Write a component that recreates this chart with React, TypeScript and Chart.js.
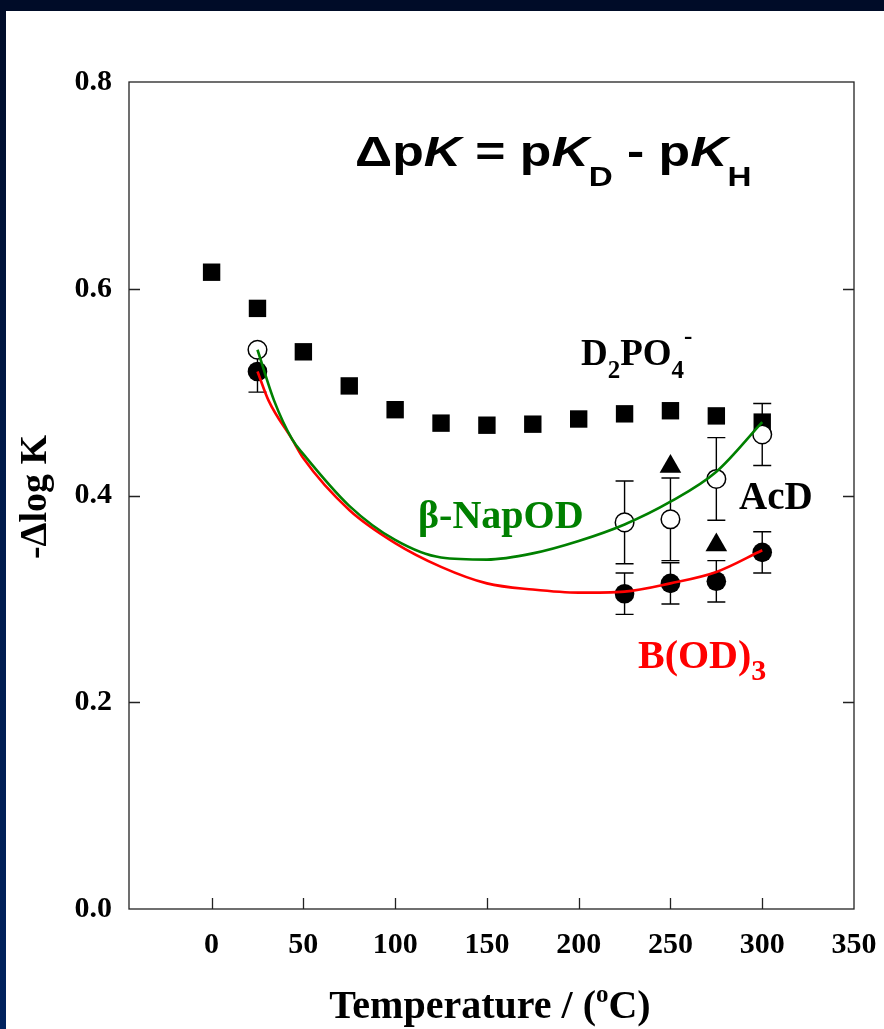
import React, { useEffect, useRef } from 'react';
import { Chart, registerables } from 'chart.js';
Chart.register(...registerables);

// ---- data ----
const phosTemps = [0, 25, 50, 75, 100, 125, 150, 175, 200, 225, 250, 275, 300];
const phosValues = [0.616, 0.581, 0.539, 0.506, 0.483, 0.47, 0.468, 0.469, 0.474, 0.479, 0.482, 0.477, 0.471];

const napTemps = [25, 225, 250, 275, 300];
const napValues = [0.541, 0.374, 0.377, 0.416, 0.459];
const napErrors = [0, 0.04, 0.04, 0.04, 0.03];

const borTemps = [25, 225, 250, 275, 300];
const borValues = [0.52, 0.305, 0.315, 0.317, 0.345];
const borErrors = [0.02, 0.02, 0.02, 0.02, 0.02];

const acdTemps = [250, 275];
const acdValues = [0.428, 0.352];

const napFitTemps = [25, 34, 44, 50, 75, 100, 125, 150, 175, 200, 225, 250, 275, 300];
const napFitValues = [0.541, 0.492, 0.454, 0.44, 0.39, 0.357, 0.34, 0.338, 0.344, 0.356, 0.372, 0.394, 0.423, 0.471];

const borFitTemps = [25, 31, 44, 50, 75, 100, 125, 150, 175, 200, 225, 250, 275, 300];
const borFitValues = [0.52, 0.492, 0.454, 0.436, 0.386, 0.354, 0.331, 0.315, 0.309, 0.306, 0.307, 0.315, 0.326, 0.347];

const xTickValues = [0, 50, 100, 150, 200, 250, 300, 350];
const xTickLabels = ['0', '50', '100', '150', '200', '250', '300', '350'];
const yTickValues = [0, 0.2, 0.4, 0.6, 0.8];
const yTickLabels = ['0.0', '0.2', '0.4', '0.6', '0.8'];

const SERIF = '"Liberation Serif", "Times New Roman", serif';
const SANS = '"Liberation Sans", Arial, sans-serif';

type Run = { text: string; font: string; dy?: number };

function drawRuns(
  ctx: CanvasRenderingContext2D,
  x: number,
  y: number,
  runs: Run[],
  color: string,
  align: 'left' | 'center' = 'left',
  scaleX = 1
) {
  ctx.save();
  ctx.fillStyle = color;
  ctx.textBaseline = 'alphabetic';
  ctx.textAlign = 'left';
  let total = 0;
  for (const r of runs) {
    ctx.font = r.font;
    total += ctx.measureText(r.text).width;
  }
  ctx.translate(x, y);
  ctx.scale(scaleX, 1);
  let cx = align === 'center' ? -total / 2 : 0;
  for (const r of runs) {
    ctx.font = r.font;
    ctx.fillText(r.text, cx, r.dy || 0);
    cx += ctx.measureText(r.text).width;
  }
  ctx.restore();
}

const toXY = (xs: number[], ys: number[]) => xs.map((x, i) => ({ x, y: ys[i] }));

const errorBarPlugin = {
  id: 'errorBars',
  beforeDatasetsDraw(chart: any) {
    const ctx = chart.ctx as CanvasRenderingContext2D;
    const xs = chart.scales.x;
    const ys = chart.scales.y;
    const sets = [
      { t: napTemps, v: napValues, e: napErrors },
      { t: borTemps, v: borValues, e: borErrors },
    ];
    ctx.save();
    ctx.strokeStyle = '#000';
    ctx.lineWidth = 1.4;
    for (const s of sets) {
      s.t.forEach((t, i) => {
        const err = s.e[i];
        if (!err) return;
        const px = xs.getPixelForValue(t);
        const top = ys.getPixelForValue(s.v[i] + err);
        const bot = ys.getPixelForValue(s.v[i] - err);
        ctx.beginPath();
        ctx.moveTo(px, top);
        ctx.lineTo(px, bot);
        ctx.moveTo(px - 9, top);
        ctx.lineTo(px + 9, top);
        ctx.moveTo(px - 9, bot);
        ctx.lineTo(px + 9, bot);
        ctx.stroke();
      });
    }
    ctx.restore();
  },
};

const framePlugin = {
  id: 'frameAxes',
  afterDraw(chart: any) {
    const ctx = chart.ctx as CanvasRenderingContext2D;
    const { left, right, top, bottom } = chart.chartArea;
    const xs = chart.scales.x;
    const ys = chart.scales.y;
    ctx.save();
    ctx.strokeStyle = '#222';
    ctx.lineWidth = 1.3;
    ctx.strokeRect(left, top, right - left, bottom - top);
    ctx.beginPath();
    xTickValues.forEach((v) => {
      const px = Math.round(xs.getPixelForValue(v)) + 0.5;
      if (px < right - 2) {
        ctx.moveTo(px, bottom);
        ctx.lineTo(px, bottom - 11);
      }
    });
    yTickValues.forEach((v) => {
      const py = Math.round(ys.getPixelForValue(v)) + 0.5;
      if (py > top + 2 && py < bottom - 2) {
        ctx.moveTo(left, py);
        ctx.lineTo(left + 11, py);
        ctx.moveTo(right, py);
        ctx.lineTo(right - 11, py);
      }
    });
    ctx.stroke();

    // tick labels
    ctx.fillStyle = '#000';
    ctx.font = `bold 30px ${SERIF}`;
    ctx.textAlign = 'center';
    ctx.textBaseline = 'middle';
    xTickValues.forEach((v, i) => {
      ctx.fillText(xTickLabels[i], xs.getPixelForValue(v), 934);
    });
    ctx.textAlign = 'right';
    yTickValues.forEach((v, i) => {
      ctx.fillText(yTickLabels[i], 106, ys.getPixelForValue(v));
    });

    // axis titles
    drawRuns(ctx, 484, 1007, [
      { text: 'Temperature / (', font: `bold 40px ${SERIF}` },
      { text: 'o', font: `bold 25px ${SERIF}`, dy: -16 },
      { text: 'C)', font: `bold 40px ${SERIF}` },
    ], '#000', 'center');

    ctx.save();
    ctx.translate(40, 486);
    ctx.rotate(-Math.PI / 2);
    drawRuns(ctx, 0, 0, [{ text: '-\u0394log K', font: `bold 38px ${SERIF}` }], '#000', 'center');
    ctx.restore();

    // annotations
    const tb = `bold 42px ${SANS}`;
    const ti = `italic bold 42px ${SANS}`;
    const ts = `bold 27px ${SANS}`;
    drawRuns(ctx, 349, 155, [
      { text: '\u0394p', font: tb },
      { text: 'K', font: ti },
      { text: ' = p', font: tb },
      { text: 'K', font: ti },
      { text: 'D', font: ts, dy: 20 },
      { text: ' - p', font: tb },
      { text: 'K', font: ti },
      { text: 'H', font: ts, dy: 20 },
    ], '#000', 'left', 1.23);

    const sb = `bold 37px ${SERIF}`;
    const ss = `bold 25px ${SERIF}`;
    drawRuns(ctx, 575, 354, [
      { text: 'D', font: sb },
      { text: '2', font: ss, dy: 13 },
      { text: 'PO', font: sb },
      { text: '4', font: ss, dy: 13 },
      { text: '-', font: ss, dy: -21 },
    ], '#000');

    drawRuns(ctx, 733, 498, [{ text: 'AcD', font: `bold 39px ${SERIF}` }], '#000');
    drawRuns(ctx, 412, 517, [{ text: '\u03b2-NapOD', font: `bold 40px ${SERIF}` }], '#008000');
    drawRuns(ctx, 632, 657, [
      { text: 'B(OD)', font: `bold 40px ${SERIF}` },
      { text: '3', font: `bold 30px ${SERIF}`, dy: 12 },
    ], '#ff0000');
    ctx.restore();
  },
};

export default function App() {
  const canvasRef = useRef<HTMLCanvasElement | null>(null);

  useEffect(() => {
    const canvas = canvasRef.current;
    if (!canvas) return;
    const chart = new Chart(canvas, {
      type: 'scatter',
      data: {
        datasets: [
          {
            label: 'NapOD fit',
            data: toXY(napFitTemps, napFitValues),
            showLine: true,
            borderColor: '#008000',
            borderWidth: 2.6,
            pointRadius: 0,
            cubicInterpolationMode: 'monotone',
            fill: false,
          },
          {
            label: 'B(OD)3 fit',
            data: toXY(borFitTemps, borFitValues),
            showLine: true,
            borderColor: '#ff0000',
            borderWidth: 2.6,
            pointRadius: 0,
            cubicInterpolationMode: 'monotone',
            fill: false,
          },
          {
            label: 'AcD',
            data: toXY(acdTemps, acdValues),
            pointStyle: 'triangle',
            pointRadius: 12.5,
            backgroundColor: '#000',
            borderWidth: 0,
          },
          {
            label: 'B(OD)3',
            data: toXY(borTemps, borValues),
            pointStyle: 'circle',
            pointRadius: 9.8,
            backgroundColor: '#000',
            borderWidth: 0,
          },
          {
            label: 'beta-NapOD',
            data: toXY(napTemps, napValues),
            pointStyle: 'circle',
            pointRadius: 9.3,
            backgroundColor: '#fff',
            borderColor: '#000',
            borderWidth: 1.5,
          },
          {
            label: 'D2PO4-',
            data: toXY(phosTemps, phosValues),
            pointStyle: 'rect',
            pointRadius: 12.3,
            backgroundColor: '#000',
            borderWidth: 0,
          },
        ],
      },
      options: {
        responsive: false,
        animation: false,
        events: [],
        devicePixelRatio: 1,
        layout: { padding: { left: 123, right: 30, top: 71, bottom: 120 } },
        plugins: { legend: { display: false }, tooltip: { enabled: false } },
        scales: {
          x: { type: 'linear', min: -45, max: 350, display: false },
          y: { type: 'linear', min: 0, max: 0.8, display: false },
        },
      },
      plugins: [errorBarPlugin, framePlugin],
    } as any);
    return () => chart.destroy();
  }, []);

  return (
    <div
      style={{
        position: 'fixed',
        left: 0,
        top: 0,
        width: 884,
        height: 1029,
        background: 'linear-gradient(to bottom, #000c28 0%, #001a4a 45%, #00225e 100%)',
        overflow: 'hidden',
      }}
    >
      <div style={{ position: 'absolute', left: 0, top: 0, width: 884, height: 11, background: '#000c28' }} />
      <canvas
        ref={canvasRef}
        width={878}
        height={1018}
        style={{ position: 'absolute', left: 6, top: 11, width: 878, height: 1018, background: '#fff', display: 'block' }}
      />
    </div>
  );
}
